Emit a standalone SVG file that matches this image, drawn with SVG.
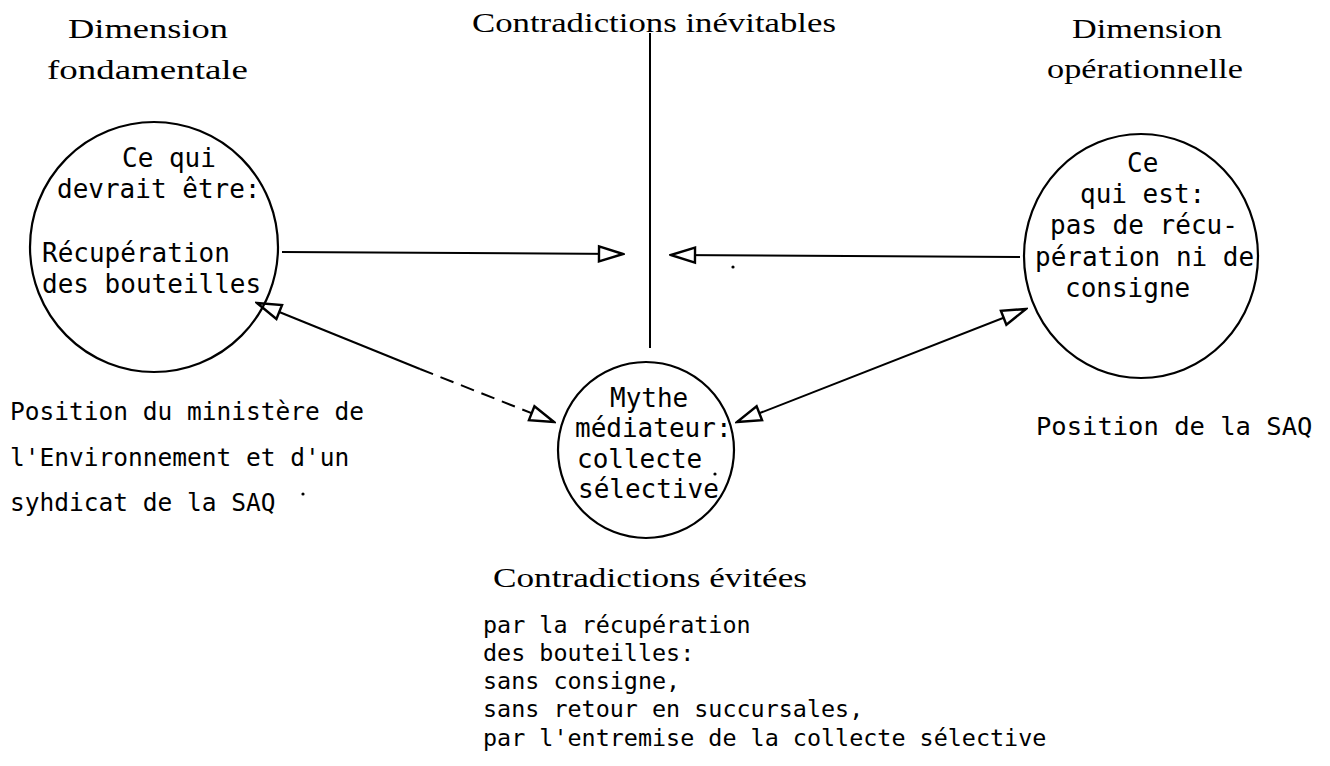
<svg xmlns="http://www.w3.org/2000/svg" width="1330" height="766" viewBox="0 0 1330 766">
<style>
.node{fill:none;stroke:#000;stroke-width:2.2}
.mono{font-family:"DejaVu Sans Mono","Liberation Mono",monospace;fill:#000}
.c{font-size:26px}
.head{font-family:"Liberation Serif","DejaVu Serif",serif;font-size:28px;fill:#000}
.conn{fill:none;stroke:#000;stroke-width:2}
.dash{stroke-dasharray:14 8}
.dot{fill:#000}
</style>
<defs>
<marker id="arr" markerUnits="userSpaceOnUse" viewBox="-28 -10 30 20" refX="0" refY="0" markerWidth="30" markerHeight="20" orient="auto-start-reverse">
<path d="M0,0 L-24,-7.5 L-24,7.5 Z" fill="#fff" stroke="#000" stroke-width="2.4" stroke-linejoin="miter"/>
</marker>
</defs>
<rect width="1330" height="766" fill="#fff"/>

<g id="heading-top">
<text class="head" x="472" y="32" textLength="364" lengthAdjust="spacingAndGlyphs">Contradictions inévitables</text>
</g>
<g id="heading-left">
<text class="head" x="68" y="38" textLength="160" lengthAdjust="spacingAndGlyphs">Dimension</text>
<text class="head" x="47" y="79" textLength="201" lengthAdjust="spacingAndGlyphs">fondamentale</text>
</g>
<g id="heading-right">
<text class="head" x="1072" y="38" textLength="150" lengthAdjust="spacingAndGlyphs">Dimension</text>
<text class="head" x="1047" y="78" textLength="196" lengthAdjust="spacingAndGlyphs">opérationnelle</text>
</g>

<g id="connectors">
<line class="conn" x1="650" y1="33" x2="650" y2="348"/>
<line class="conn" x1="282" y1="252" x2="623" y2="254" marker-end="url(#arr)"/>
<line class="conn" x1="1020" y1="257" x2="671" y2="255" marker-end="url(#arr)"/>
<line class="conn" x1="420" y1="369" x2="257" y2="303" marker-end="url(#arr)"/>
<line class="conn dash" x1="420" y1="369" x2="554" y2="422" marker-end="url(#arr)"/>
<line class="conn" x1="737" y1="422" x2="1026" y2="309" marker-start="url(#arr)" marker-end="url(#arr)"/>
</g>

<g id="node-fondamentale">
<ellipse class="node" cx="154" cy="247" rx="124" ry="125"/>
<text class="mono c" x="122" y="167">Ce qui</text>
<text class="mono c" x="57" y="198">devrait être:</text>
<text class="mono c" x="42" y="262">Récupération</text>
<text class="mono c" x="42" y="293">des bouteilles</text>
</g>

<g id="node-operationnelle">
<ellipse class="node" cx="1141" cy="256" rx="117" ry="122"/>
<text class="mono c" x="1127" y="172">Ce</text>
<text class="mono c" x="1080" y="203">qui est:</text>
<text class="mono c" x="1050" y="234">pas de récu-</text>
<text class="mono c" x="1035" y="266">pération ni de</text>
<text class="mono c" x="1065" y="297">consigne</text>
</g>

<g id="node-mythe">
<ellipse class="node" cx="646" cy="450" rx="88" ry="88"/>
<text class="mono c" x="610" y="407">Mythe</text>
<text class="mono c" x="575" y="437">médiateur:</text>
<text class="mono c" x="577" y="468">collecte</text>
<text class="mono c" x="578" y="498">sélective</text>
<circle class="dot" cx="715" cy="474" r="1.6"/>
</g>

<g id="label-left">
<text class="mono" font-size="24.5" x="10" y="420">Position du ministère de</text>
<text class="mono" font-size="24.5" x="10" y="466">l'Environnement et d'un</text>
<text class="mono" font-size="24.5" x="10" y="511">syhdicat de la SAQ</text>
<circle class="dot" cx="303" cy="494" r="1.6"/>
</g>

<g id="label-right">
<text class="mono" font-size="25.5" x="1036" y="435">Position de la SAQ</text>
</g>

<g id="label-bottom">
<text class="head" x="493" y="587" textLength="314" lengthAdjust="spacingAndGlyphs">Contradictions évitées</text>
<text class="mono" font-size="23.4" x="483" y="633">par la récupération</text>
<text class="mono" font-size="23.4" x="483" y="661">des bouteilles:</text>
<text class="mono" font-size="23.4" x="483" y="689">sans consigne,</text>
<text class="mono" font-size="23.4" x="483" y="717">sans retour en succursales,</text>
<text class="mono" font-size="23.4" x="483" y="746">par l'entremise de la collecte sélective</text>
</g>

<circle class="dot" cx="733" cy="267" r="1.6"/>
</svg>
